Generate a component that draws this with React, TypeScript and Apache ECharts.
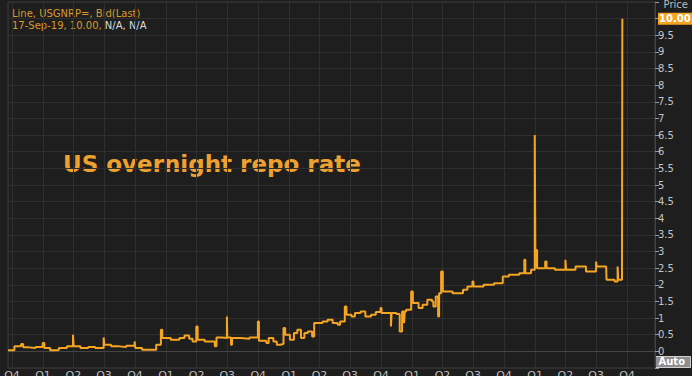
import React, { useEffect, useRef } from "react";
import * as echarts from "echarts";

const dates: string[] = [
  "2014-09-19", "2014-10-08", "2014-10-28", "2014-11-03", "2014-11-20", "2014-12-10", "2014-12-31",
  "2015-01-05", "2015-01-22", "2015-02-12", "2015-02-17", "2015-03-13", "2015-03-31", "2015-04-02",
  "2015-04-22", "2015-05-15", "2015-06-05", "2015-06-30", "2015-07-02", "2015-07-22", "2015-08-15",
  "2015-09-05", "2015-09-30", "2015-10-02", "2015-10-22", "2015-11-20", "2015-12-03", "2015-12-17",
  "2015-12-21",
  "2016-01-15", "2016-02-10", "2016-02-25", "2016-03-10", "2016-03-20", "2016-03-31", "2016-04-04",
  "2016-04-25", "2016-05-25", "2016-05-30", "2016-06-15", "2016-06-30", "2016-07-01", "2016-07-12",
  "2016-07-15", "2016-08-10", "2016-09-05", "2016-09-30", "2016-10-03", "2016-10-25", "2016-11-01",
  "2016-11-15", "2016-11-25", "2016-12-05", "2016-12-15", "2016-12-20",
  "2017-01-03", "2017-01-15", "2017-01-25", "2017-02-05", "2017-02-15", "2017-02-25", "2017-03-10",
  "2017-03-16", "2017-04-10", "2017-04-25", "2017-05-10", "2017-05-25", "2017-06-01", "2017-06-15",
  "2017-06-20", "2017-07-05", "2017-07-15", "2017-08-01", "2017-08-15", "2017-09-01", "2017-09-15",
  "2017-09-29", "2017-10-02", "2017-10-30", "2017-11-01", "2017-11-15", "2017-11-25", "2017-12-02",
  "2017-12-08", "2017-12-10", "2017-12-14", "2017-12-29",
  "2018-01-03", "2018-01-20", "2018-02-01", "2018-02-15", "2018-03-01", "2018-03-05", "2018-03-12",
  "2018-03-19", "2018-03-22", "2018-03-28", "2018-04-02", "2018-05-01", "2018-06-01", "2018-06-14",
  "2018-06-29", "2018-07-02", "2018-08-01", "2018-09-01", "2018-09-27", "2018-10-15", "2018-11-15",
  "2018-11-30", "2018-12-03", "2018-12-20", "2018-12-31",
  "2019-01-02", "2019-01-04", "2019-01-07", "2019-01-31", "2019-02-04", "2019-03-01", "2019-04-01",
  "2019-04-03", "2019-05-01", "2019-06-01", "2019-07-01", "2019-07-03", "2019-07-31", "2019-08-01",
  "2019-08-25", "2019-09-03", "2019-09-05", "2019-09-16", "2019-09-17",
];

const rates: number[] = [
  0.03, 0.15, 0.22, 0.12, 0.10, 0.13, 0.25,
  0.10, 0.03, 0.05, 0.10, 0.15, 0.50, 0.15,
  0.10, 0.13, 0.10, 0.42, 0.20, 0.15, 0.13,
  0.17, 0.30, 0.10, 0.05, 0.05, 0.20, 0.65,
  0.40,
  0.35, 0.40, 0.48, 0.38, 0.30, 0.75, 0.35,
  0.30, 0.15, 0.42, 0.40, 1.05, 0.42, 0.20,
  0.40, 0.38, 0.42, 0.90, 0.32, 0.25, 0.40,
  0.30, 0.20, 0.22, 0.70, 0.50,
  0.35, 0.55, 0.65, 0.40, 0.55, 0.60, 0.45,
  0.85, 0.90, 0.95, 0.85, 0.80, 0.90, 1.35,
  1.10, 1.05, 1.15, 1.20, 1.05, 1.10, 1.18,
  1.30, 1.15, 0.75, 1.15, 1.12, 0.60, 1.20,
  0.85, 1.20, 1.25, 1.80,
  1.45, 1.30, 1.40, 1.55, 1.50, 1.35, 1.65,
  1.05, 1.75, 2.40, 1.80, 1.75, 1.85, 1.95,
  2.10, 1.95, 2.00, 2.05, 2.25, 2.30, 2.35,
  2.75, 2.35, 2.45, 6.50,
  2.50, 3.05, 2.50, 2.70, 2.50, 2.45, 2.75,
  2.45, 2.55, 2.40, 2.70, 2.55, 2.55, 2.15,
  2.10, 2.55, 2.15, 2.20, 10.00,
];

const axisStart = "2014-09-19";
const axisEnd = "2019-12-23";
const lastPriceLabel = "10.00";
const titleText = "US overnight repo rate";
const legendLine1 = "Line, USGNRP=, Bid(Last)";
const legendDate = "17-Sep-19, 10.00, ";
const legendNA = "N/A, N/A";

const ORANGE = "#f5a521";
const FONT = "'DejaVu Sans', 'Noto Sans', sans-serif";

export default function App() {
  const ref = useRef<HTMLDivElement>(null);

  useEffect(() => {
    document.body.style.margin = "0";
    document.body.style.background = "#1e1e1e";
    const chart = echarts.init(ref.current!, null, { renderer: "svg" });
    const DAY = 24 * 3600 * 1000;
    const seriesData = dates.map((d, i) => [d, rates[i]]);

    chart.setOption({
      animation: false,
      backgroundColor: "#1e1e1e",
      textStyle: { fontFamily: FONT },
      grid: {
        left: 8,
        right: 37,
        top: 2,
        bottom: 8,
        outerBoundsMode: "none",
        containLabel: false,
        show: true,
        borderColor: "#3a3a3a",
        borderWidth: 1,
      },
      xAxis: {
        type: "time",
        min: axisStart,
        max: axisEnd,
        minInterval: 90 * DAY,
        maxInterval: 92 * DAY,
        axisLine: { show: true, lineStyle: { color: "#444" } },
        axisTick: { show: false },
        splitLine: { show: true, lineStyle: { color: "#2f2f2f", width: 1 } },
        axisLabel: {
          show: true,
          showMinLabel: false,
          showMaxLabel: false,
          hideOverlap: false,
          color: "#bdbdbd",
          fontSize: 11,
          fontFamily: FONT,
          margin: 2,
          formatter: (v: number) => "Q" + (Math.floor(new Date(v).getMonth() / 3) + 1),
        },
      },
      yAxis: {
        type: "value",
        position: "right",
        min: -0.5,
        max: 10.5,
        interval: 0.5,
        axisLine: { show: true, lineStyle: { color: "#444" } },
        axisTick: { show: true, length: 4, lineStyle: { color: "#9a9a9a" } },
        splitLine: { show: true, lineStyle: { color: "#2f2f2f", width: 1 } },
        axisLabel: {
          color: "#c4c4c4",
          fontSize: 10,
          fontFamily: FONT,
          margin: 3,
          showMinLabel: true,
          showMaxLabel: true,
          formatter: (v: number) => {
            if (v < 0 || v > 10) return "";
            if (Math.abs(v - 10) < 1e-9) return "{hl|" + lastPriceLabel + "}";
            return String(v);
          },
          rich: {
            hl: {
              backgroundColor: ORANGE,
              color: "#ffffff",
              fontSize: 10,
              fontWeight: "bold",
              fontFamily: FONT,
              padding: [1, 2, 1, 1],
            },
          },
        },
      },
      series: [
        {
          type: "line",
          data: seriesData,
          step: "end",
          showSymbol: false,
          symbol: "none",
          lineStyle: { color: ORANGE, width: 2 },
          z: 5,
        },
      ],
      graphic: [
        {
          type: "text",
          left: 12,
          top: 8,
          style: { text: legendLine1, fill: "#d99a2e", font: "10px " + FONT },
        },
        {
          type: "text",
          left: 12,
          top: 20,
          style: {
            text: "{o|" + legendDate + "}{w|" + legendNA + "}",
            font: "10px " + FONT,
            rich: {
              o: { fill: "#d99a2e", font: "10px " + FONT },
              w: { fill: "#dddddd", font: "10px " + FONT },
            },
          },
        },
        {
          type: "text",
          left: 63,
          top: 152,
          style: { text: titleText, fill: "#efa12f", font: "bold 23px " + FONT },
        },
        {
          type: "text",
          right: 4,
          top: -1,
          style: { text: "Price", fill: "#bbbbbb", font: "10px " + FONT },
        },
        {
          type: "group",
          right: 1,
          bottom: 8,
          children: [
            {
              type: "rect",
              shape: { x: 0, y: 0, width: 35, height: 11 },
              style: { fill: "#8f8f8f", stroke: "#d0d0d0", lineWidth: 1 },
            },
            {
              type: "text",
              x: 3,
              y: 0,
              style: { text: "Auto", fill: "#ffffff", font: "bold 10px " + FONT },
            },
          ],
        },
      ],
    });

    return () => chart.dispose();
  }, []);

  return (
    <div
      ref={ref}
      style={{ position: "fixed", left: 0, top: 0, width: 692, height: 376 }}
    />
  );
}
